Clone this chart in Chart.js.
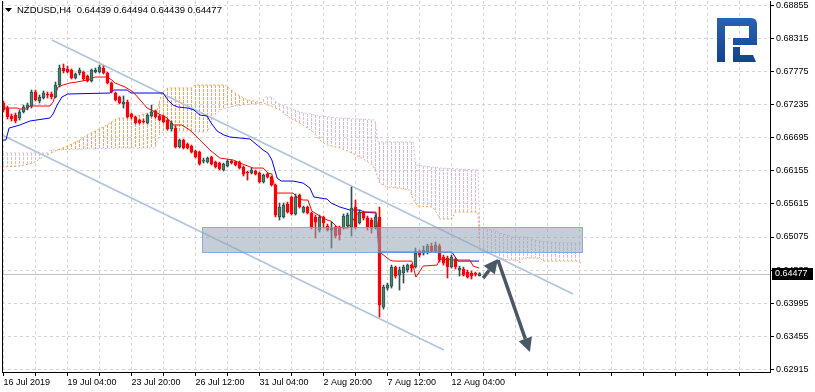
<!DOCTYPE html>
<html>
<head>
<meta charset="utf-8">
<title>NZDUSD,H4</title>
<script src="https://cdn.jsdelivr.net/npm/chart.js@4.4.1/dist/chart.umd.min.js"></script>
<style>
  html, body { margin: 0; padding: 0; background: #fff; }
  #wrap { width: 815px; height: 392px; }
</style>
</head>
<body>
<div id="wrap"><canvas id="myChart" width="815" height="392"></canvas></div>
<script>
const symbol = "NZDUSD";
const period = "H4";

// x axis: bar index, a label every 16 bars, a grid line every 8
const xLabels = ["16 Jul 2019", "19 Jul 04:00", "23 Jul 20:00", "26 Jul 12:00", "31 Jul 04:00", "2 Aug 20:00", "7 Aug 12:00", "12 Aug 04:00"];
const xLabelIdx = [0, 16, 32, 48, 64, 80, 96, 112];
const gridIdx = [0, 8, 16, 24, 32, 40, 48, 56, 64, 72, 80, 88, 96, 104, 112, 120, 128, 136, 144, 152, 160, 168, 176, 184];
const yTicks = [0.68855, 0.68315, 0.67775, 0.67235, 0.66695, 0.66155, 0.65615, 0.65075, 0.64535, 0.63995, 0.63455, 0.62915];

const opens = [
  0.67261, 0.67179, 0.67049, 0.67065, 0.67016, 0.67114, 0.67179, 0.67212, 0.67441, 0.67294,
  0.67343, 0.67392, 0.67408, 0.67359, 0.67555, 0.67832, 0.67816, 0.67800, 0.67669, 0.67751,
  0.67767, 0.67702, 0.67620, 0.67767, 0.67767, 0.67832, 0.67751, 0.67587, 0.67424, 0.67359,
  0.67245, 0.67277, 0.67082, 0.67033, 0.66984, 0.66967, 0.66935, 0.67049, 0.67130, 0.67049,
  0.67049, 0.66984, 0.66837, 0.66853, 0.66543, 0.66657, 0.66592, 0.66559, 0.66478, 0.66461,
  0.66314, 0.66298, 0.66380, 0.66298, 0.66282, 0.66168, 0.66233, 0.66314, 0.66298, 0.66298,
  0.66217, 0.66135, 0.66119, 0.66151, 0.66119, 0.65972, 0.66102, 0.66053, 0.65923, 0.65401,
  0.65401, 0.65613, 0.65727, 0.65450, 0.65760, 0.65482, 0.65564, 0.65466, 0.65401, 0.65188,
  0.65401, 0.65254, 0.65188, 0.65237, 0.65221, 0.65221, 0.65254, 0.65237, 0.65564, 0.65303,
  0.65482, 0.65384, 0.65352, 0.65237, 0.65401, 0.63932, 0.64242, 0.64274, 0.64585, 0.64454,
  0.64487, 0.64536, 0.64617, 0.64585, 0.64829, 0.64813, 0.64829, 0.64927, 0.64846, 0.64927,
  0.64748, 0.64731, 0.64585, 0.64715, 0.64536, 0.64552, 0.64503, 0.64487, 0.64470, 0.64439
];
const highs = [
  0.67294, 0.67212, 0.67082, 0.67098, 0.67147, 0.67228, 0.67261, 0.67473, 0.67473, 0.67392,
  0.67457, 0.67441, 0.67441, 0.67604, 0.67881, 0.67897, 0.67865, 0.67816, 0.67751, 0.67832,
  0.67783, 0.67718, 0.67816, 0.67832, 0.67881, 0.67865, 0.67767, 0.67604, 0.67441, 0.67375,
  0.67375, 0.67310, 0.67098, 0.67049, 0.67000, 0.67000, 0.67082, 0.67228, 0.67147, 0.67065,
  0.67065, 0.67000, 0.66967, 0.66886, 0.66674, 0.66674, 0.66608, 0.66576, 0.66494, 0.66478,
  0.66363, 0.66380, 0.66396, 0.66314, 0.66298, 0.66282, 0.66331, 0.66331, 0.66314, 0.66314,
  0.66233, 0.66151, 0.66200, 0.66168, 0.66135, 0.66102, 0.66119, 0.66070, 0.65939, 0.65629,
  0.65629, 0.65645, 0.65743, 0.65776, 0.65776, 0.65580, 0.65580, 0.65482, 0.65433, 0.65433,
  0.65417, 0.65286, 0.65319, 0.65254, 0.65254, 0.65450, 0.65466, 0.65890, 0.65678, 0.65515,
  0.65498, 0.65417, 0.65384, 0.65433, 0.65564, 0.64291, 0.64323, 0.64617, 0.64601, 0.64585,
  0.64617, 0.64634, 0.64634, 0.64895, 0.64862, 0.64927, 0.64960, 0.64976, 0.64993, 0.64960,
  0.64780, 0.64764, 0.64780, 0.64731, 0.64601, 0.64585, 0.64536, 0.64519, 0.64503, 0.64494
];
const lows = [
  0.67114, 0.67000, 0.66967, 0.66935, 0.66984, 0.67098, 0.67147, 0.67179, 0.67294, 0.67261,
  0.67326, 0.67343, 0.67326, 0.67343, 0.67522, 0.67751, 0.67751, 0.67653, 0.67653, 0.67718,
  0.67636, 0.67604, 0.67604, 0.67751, 0.67751, 0.67734, 0.67571, 0.67424, 0.67294, 0.67245,
  0.67179, 0.67016, 0.67000, 0.66918, 0.66918, 0.66935, 0.66918, 0.67033, 0.67016, 0.66967,
  0.66935, 0.66820, 0.66804, 0.66527, 0.66527, 0.66510, 0.66510, 0.66445, 0.66363, 0.66249,
  0.66282, 0.66282, 0.66249, 0.66200, 0.66168, 0.66151, 0.66217, 0.66265, 0.66233, 0.66184,
  0.66070, 0.66004, 0.66102, 0.66086, 0.65955, 0.65955, 0.66037, 0.65906, 0.65401, 0.65352,
  0.65384, 0.65466, 0.65433, 0.65433, 0.65547, 0.65466, 0.65450, 0.65205, 0.65058, 0.65156,
  0.65221, 0.65172, 0.64895, 0.65058, 0.65025, 0.65205, 0.65221, 0.65091, 0.65205, 0.65286,
  0.65352, 0.65188, 0.65139, 0.65205, 0.63769, 0.63899, 0.64209, 0.64242, 0.64405, 0.64209,
  0.64323, 0.64503, 0.64503, 0.64568, 0.64748, 0.64780, 0.64797, 0.64829, 0.64829, 0.64666,
  0.64617, 0.64405, 0.64568, 0.64552, 0.64438, 0.64438, 0.64405, 0.64389, 0.64438, 0.64439
];
const closes = [
  0.67147, 0.67033, 0.67000, 0.66967, 0.67114, 0.67196, 0.67228, 0.67441, 0.67310, 0.67359,
  0.67424, 0.67390, 0.67359, 0.67555, 0.67832, 0.67783, 0.67767, 0.67669, 0.67734, 0.67800,
  0.67653, 0.67620, 0.67800, 0.67800, 0.67849, 0.67751, 0.67587, 0.67441, 0.67310, 0.67261,
  0.67277, 0.67033, 0.67033, 0.66935, 0.66935, 0.66951, 0.67065, 0.67114, 0.67033, 0.66984,
  0.66951, 0.66837, 0.66935, 0.66543, 0.66657, 0.66527, 0.66527, 0.66461, 0.66380, 0.66265,
  0.66331, 0.66363, 0.66265, 0.66217, 0.66184, 0.66265, 0.66314, 0.66282, 0.66249, 0.66200,
  0.66102, 0.66119, 0.66168, 0.66102, 0.65972, 0.66086, 0.66053, 0.65923, 0.65433, 0.65564,
  0.65596, 0.65482, 0.65450, 0.65727, 0.65564, 0.65564, 0.65466, 0.65237, 0.65319, 0.65401,
  0.65303, 0.65188, 0.65221, 0.65091, 0.65107, 0.65417, 0.65433, 0.65547, 0.65237, 0.65482,
  0.65384, 0.65237, 0.65221, 0.65401, 0.63964, 0.64258, 0.64291, 0.64585, 0.64438, 0.64536,
  0.64585, 0.64617, 0.64568, 0.64813, 0.64780, 0.64862, 0.64927, 0.64846, 0.64944, 0.64699,
  0.64650, 0.64585, 0.64748, 0.64585, 0.64568, 0.64454, 0.64421, 0.64438, 0.64465, 0.64477
];

// ichimoku lines as [bar index, price] break points
const tenkan = [
  [-0.375, 0.67179], [3.4, 0.67179], [4.1, 0.67163], [5.9, 0.67163], [6.6, 0.67212], [11.6, 0.67212],
  [12.4, 0.67277], [13.6, 0.67522], [14.9, 0.67555], [16.6, 0.67587], [18.4, 0.67604], [20.9, 0.67636],
  [22.9, 0.67685], [25.9, 0.67685], [27.1, 0.67636], [27.9, 0.67587], [30.4, 0.67522], [32.4, 0.67441],
  [34.6, 0.67277], [35.9, 0.67179], [38.4, 0.67098], [40.9, 0.67016], [42.4, 0.66902], [44.6, 0.66902],
  [46.6, 0.66820], [49.1, 0.66657], [51.6, 0.66494], [54.1, 0.66363], [57.4, 0.66331], [59.1, 0.66282],
  [62.4, 0.66200], [64.9, 0.66200], [66.1, 0.66119], [67.1, 0.66102], [68.1, 0.65792], [72.4, 0.65792],
  [73.4, 0.65727], [74.9, 0.65678], [76.1, 0.65678], [77.1, 0.65498], [79.1, 0.65417], [80.9, 0.65352],
  [81.9, 0.65335], [83.4, 0.65237], [86.1, 0.65221], [87.1, 0.65319], [88.4, 0.65450], [89.9, 0.65482],
  [93.1, 0.65482], [94.1, 0.64829], [96.6, 0.64699], [97.4, 0.64682], [102.1, 0.64682], [103.1, 0.64421],
  [104.1, 0.64519], [104.9, 0.64601], [108.4, 0.64617], [109.1, 0.64715], [112.9, 0.64699], [116.6, 0.64699],
  [117.4, 0.64601], [118.9, 0.64568]
];
const kijun = [
  [-0.375, 0.66657], [0.6, 0.66657], [1.4, 0.66853], [4.1, 0.66902], [6.6, 0.66967], [11.6, 0.67016],
  [12.4, 0.67082], [13.4, 0.67228], [14.6, 0.67359], [16.1, 0.67408], [26.6, 0.67424], [27.6, 0.67473],
  [30.9, 0.67473], [31.9, 0.67424], [39.9, 0.67424], [41.1, 0.67310], [42.4, 0.67228], [43.6, 0.67196],
  [46.1, 0.67179], [47.6, 0.67147], [49.1, 0.67065], [50.9, 0.67049], [51.9, 0.66935], [53.4, 0.66804],
  [55.1, 0.66739], [56.6, 0.66706], [59.1, 0.66690], [61.6, 0.66674], [63.4, 0.66576], [64.9, 0.66494],
  [66.1, 0.66445], [67.1, 0.66331], [68.4, 0.66037], [69.4, 0.65988], [72.4, 0.65988], [74.9, 0.65955],
  [76.6, 0.65874], [77.6, 0.65727], [80.9, 0.65694], [81.9, 0.65629], [84.1, 0.65564], [86.6, 0.65515],
  [89.1, 0.65515], [90.1, 0.65482], [93.1, 0.65466], [93.9, 0.64829], [112.1, 0.64829], [113.6, 0.64682],
  [118.9, 0.64682]
];
const senkouA = [
  [-0.375, 0.66217], [4.1, 0.66233], [7.4, 0.66282], [9.9, 0.66380], [13.4, 0.66494], [16.6, 0.66576],
  [19.1, 0.66657], [20.9, 0.66739], [23.4, 0.66820], [25.9, 0.66902], [28.4, 0.67016], [31.6, 0.67016],
  [35.9, 0.67098], [38.4, 0.67147], [39.6, 0.67424], [41.1, 0.67506], [47.1, 0.67506], [47.9, 0.67555],
  [55.4, 0.67555], [58.6, 0.67392], [61.1, 0.67310], [64.9, 0.67261], [67.4, 0.67196], [69.1, 0.67147],
  [71.6, 0.67016], [74.1, 0.66935], [77.4, 0.66788], [79.1, 0.66657], [80.9, 0.66576], [84.1, 0.66527],
  [86.6, 0.66461], [89.1, 0.66380], [92.4, 0.66249], [94.1, 0.65955], [95.9, 0.65890], [98.4, 0.65874],
  [101.6, 0.65841], [102.4, 0.65694], [103.4, 0.65580], [107.4, 0.65564], [108.4, 0.65450], [109.1, 0.65368],
  [112.1, 0.65368], [112.9, 0.65482], [118.6, 0.65482], [119.1, 0.64862], [120.9, 0.64813], [123.4, 0.64748],
  [125.9, 0.64699], [128.4, 0.64699], [129.1, 0.64650], [129.9, 0.64731], [134.1, 0.64731], [134.9, 0.64682],
  [143.4, 0.64682], [144.9, 0.64650]
];
const senkouB = [
  [-0.375, 0.66445], [10.9, 0.66445], [11.6, 0.66494], [29.1, 0.66527], [37.9, 0.66527], [39.1, 0.66771],
  [39.9, 0.66788], [50.9, 0.66788], [51.6, 0.66869], [52.4, 0.67033], [54.1, 0.67147], [56.6, 0.67196],
  [64.1, 0.67261], [65.6, 0.67359], [67.1, 0.67359], [68.4, 0.67261], [70.9, 0.67196], [74.1, 0.67114],
  [79.1, 0.67049], [84.1, 0.67016], [92.9, 0.66984], [93.6, 0.66625], [102.4, 0.66625], [103.1, 0.66249],
  [109.1, 0.66200], [118.6, 0.66168], [119.1, 0.65237], [122.4, 0.65188], [124.1, 0.65139], [127.4, 0.65074],
  [130.9, 0.65074], [132.4, 0.65025], [135.9, 0.64993], [140.9, 0.64976], [144.9, 0.64976]
];

// drawn objects: channel, resistance zone, arrows
const channelUpper = [[12.1, 0.68289], [142.4, 0.64144]];
const channelLower = [[-0.375, 0.66739], [110.1, 0.63230]];
const zone = { from: 49.6, to: 144.6, top: 0.65237, bottom: 0.64829 };
const arrowUp = [[119.9, 0.64405], [123.6, 0.64715]];
const arrowDown = [[123.6, 0.64699], [131.6, 0.63197]];

const lastPrice = closes[closes.length - 1];
const xMin = -0.375;
const xMax = 191.625;
const yMin = 0.628726;
const yMax = 0.689252;

const bullFill = "#3e8a6a";
const bullEdge = "#2f4f4f";
const bearFill = "#ff0000";
const spanAColor = "#f4a460";
const spanBColor = "#d8bfd8";

const isBull = function (i) {
  return closes[i] >= opens[i];
};

const toPoints = function (list) {
  return list.map(function (p) { return { x: p[0], y: p[1] }; });
};

// value of a broken line at bar k (the line itself is drawn by chart.js the same way)
const lineAt = function (list, k) {
  for (let j = 1; j < list.length; j++) {
    if (k <= list[j][0]) {
      const a = list[j - 1];
      const b = list[j];
      return a[1] + (b[1] - a[1]) * (k - a[0]) / (b[0] - a[0]);
    }
  }
  return list[list.length - 1][1];
};

const drawArrow = function (ctx, x1, y1, x2, y2) {
  const ang = Math.atan2(y2 - y1, x2 - x1);
  const head = 14;
  const half = 7;
  const bx = x2 - head * Math.cos(ang);
  const by = y2 - head * Math.sin(ang);
  ctx.beginPath();
  ctx.moveTo(x1, y1);
  ctx.lineTo(bx, by);
  ctx.stroke();
  ctx.beginPath();
  ctx.moveTo(x2, y2);
  ctx.lineTo(bx + half * Math.sin(ang), by - half * Math.cos(ang));
  ctx.lineTo(bx - half * Math.sin(ang), by + half * Math.cos(ang));
  ctx.closePath();
  ctx.fill();
};

const drawLogo = function (ctx) {
  let grad = ctx.createLinearGradient(0, 18, 0, 62);
  grad.addColorStop(0, "#2a62b6");
  grad.addColorStop(1, "#14428e");
  ctx.fillStyle = grad;
  ctx.beginPath();
  ctx.moveTo(717, 18);
  ctx.lineTo(751, 18);
  ctx.quadraticCurveTo(757, 18, 757, 24);
  ctx.lineTo(757, 45);
  ctx.lineTo(733, 45);
  ctx.lineTo(733, 38);
  ctx.lineTo(749, 38);
  ctx.lineTo(749, 26);
  ctx.lineTo(725, 26);
  ctx.lineTo(725, 62);
  ctx.lineTo(717, 62);
  ctx.closePath();
  ctx.fill();
  ctx.beginPath();
  ctx.moveTo(733, 47);
  ctx.lineTo(740, 47);
  ctx.lineTo(740, 55);
  ctx.lineTo(753, 55);
  ctx.lineTo(756, 62);
  ctx.lineTo(733, 62);
  ctx.closePath();
  ctx.fill();
};

const overlayPlugin = {
  id: "overlay",
  beforeDatasetsDraw: function (chart) {
    const { ctx, chartArea, scales } = chart;
    const sx = scales.x;
    const sy = scales.y;
    ctx.save();

    // kumo hatching: one dotted vertical line per bar between span A and span B
    ctx.lineWidth = 1;
    ctx.setLineDash([3, 1]);
    const lastK = Math.floor(senkouA[senkouA.length - 1][0]);
    for (let k = 0; k <= lastK; k++) {
      const a = lineAt(senkouA, k);
      const b = lineAt(senkouB, k);
      const x = Math.round(sx.getPixelForValue(k)) - 0.5;
      ctx.strokeStyle = a >= b ? spanAColor : spanBColor;
      ctx.beginPath();
      ctx.moveTo(x, Math.round(sy.getPixelForValue(Math.max(a, b))));
      ctx.lineTo(x, Math.round(sy.getPixelForValue(Math.min(a, b))));
      ctx.stroke();
    }
    ctx.setLineDash([]);

    // current price line
    const y = Math.round(sy.getPixelForValue(lastPrice)) + 0.5;
    ctx.strokeStyle = "#c0c0c0";
    ctx.beginPath();
    ctx.moveTo(chartArea.left, y);
    ctx.lineTo(chartArea.right, y);
    ctx.stroke();
    ctx.restore();
  },
  afterDatasetsDraw: function (chart) {
    const { ctx, chartArea, scales } = chart;
    const sx = scales.x;
    const sy = scales.y;
    ctx.save();

    // resistance zone
    let zx1 = Math.round(sx.getPixelForValue(zone.from)) + 0.5;
    let zx2 = Math.round(sx.getPixelForValue(zone.to)) + 0.5;
    let zy1 = Math.round(sy.getPixelForValue(zone.top)) + 0.5;
    let zy2 = Math.round(sy.getPixelForValue(zone.bottom)) + 0.5;
    ctx.fillStyle = "rgba(150,165,182,0.55)";
    ctx.fillRect(zx1, zy1, zx2 - zx1, zy2 - zy1);
    ctx.strokeStyle = "rgba(110,150,225,0.75)";
    ctx.lineWidth = 1;
    ctx.strokeRect(zx1, zy1, zx2 - zx1, zy2 - zy1);

    // arrows
    ctx.strokeStyle = "#4a5866";
    ctx.fillStyle = "#4a5866";
    ctx.lineWidth = 3.5;
    for (let a of [arrowUp, arrowDown]) {
      drawArrow(ctx,
        sx.getPixelForValue(a[0][0]), sy.getPixelForValue(a[0][1]),
        sx.getPixelForValue(a[1][0]), sy.getPixelForValue(a[1][1]));
    }

    drawLogo(ctx);

    // left frame
    ctx.strokeStyle = "#000";
    ctx.lineWidth = 1;
    ctx.beginPath();
    ctx.moveTo(chartArea.left + 0.5, chartArea.top);
    ctx.lineTo(chartArea.left + 0.5, chartArea.bottom);
    ctx.stroke();

    // header
    const n = closes.length - 1;
    ctx.fillStyle = "#000";
    ctx.beginPath();
    ctx.moveTo(5, 8);
    ctx.lineTo(12, 8);
    ctx.lineTo(8.5, 12);
    ctx.closePath();
    ctx.fill();
    ctx.font = "9.5px 'Liberation Sans', Arial, sans-serif";
    ctx.textBaseline = "middle";
    ctx.fillText(symbol + "," + period + "  " + opens[n].toFixed(5) + " " + highs[n].toFixed(5) + " " +
      lows[n].toFixed(5) + " " + closes[n].toFixed(5), 17, 10.5);

    // current price tag
    const py = sy.getPixelForValue(lastPrice);
    ctx.fillStyle = "#000";
    ctx.fillRect(chartArea.right + 2, Math.round(py) - 6, 41, 12);
    ctx.fillStyle = "#fff";
    ctx.font = "9px 'Liberation Sans', Arial, sans-serif";
    ctx.fillText(lastPrice.toFixed(5), chartArea.right + 5, Math.round(py));
    ctx.restore();
  }
};

const drawChart = function () {
  const ctx = document.getElementById("myChart").getContext("2d");

  Chart.defaults.font.family = "'Liberation Sans', Arial, sans-serif";
  Chart.defaults.font.size = 9;
  Chart.defaults.color = "#000";

  const myChart = new Chart(ctx, {
    type: "line",
    data: {
      datasets: [
        {
          type: "bar",
          label: "body",
          data: opens.map(function (o, i) { return { x: i, y: [o, closes[i]] }; }),
          backgroundColor: function (c) { return isBull(c.dataIndex) ? bullFill : bearFill; },
          borderColor: function (c) { return isBull(c.dataIndex) ? bullEdge : bearFill; },
          borderWidth: 1,
          borderSkipped: false,
          barThickness: 3,
          minBarLength: 1,
          grouped: false
        },
        {
          type: "bar",
          label: "wick",
          data: lows.map(function (l, i) { return { x: i, y: [l, highs[i]] }; }),
          backgroundColor: function (c) { return isBull(c.dataIndex) ? bullEdge : bearFill; },
          borderWidth: 0,
          barThickness: 1,
          grouped: false
        },
        {
          label: "Tenkan-sen",
          data: toPoints(tenkan),
          borderColor: "#ff0000",
          borderWidth: 1,
          pointRadius: 0,
          tension: 0
        },
        {
          label: "Kijun-sen",
          data: toPoints(kijun),
          borderColor: "#0000ff",
          borderWidth: 1,
          pointRadius: 0,
          tension: 0
        },
        {
          label: "channel top",
          data: toPoints(channelUpper),
          borderColor: "#b0c4de",
          borderWidth: 1.6,
          pointRadius: 0
        },
        {
          label: "channel bottom",
          data: toPoints(channelLower),
          borderColor: "#b0c4de",
          borderWidth: 1.6,
          pointRadius: 0
        },
        {
          label: "Senkou Span A",
          data: toPoints(senkouA),
          borderColor: spanAColor,
          borderWidth: 1,
          borderDash: [2, 2],
          pointRadius: 0,
          tension: 0
        },
        {
          label: "Senkou Span B",
          data: toPoints(senkouB),
          borderColor: spanBColor,
          borderWidth: 1,
          borderDash: [2, 2],
          pointRadius: 0,
          tension: 0
        }
      ]
    },
    options: {
      responsive: false,
      maintainAspectRatio: false,
      devicePixelRatio: 1,
      animation: false,
      events: [],
      layout: { padding: { left: 2, top: 1, right: 0, bottom: 0 } },
      plugins: {
        legend: { display: false },
        tooltip: { enabled: false }
      },
      scales: {
        x: {
          type: "linear",
          min: xMin,
          max: xMax,
          bounds: "data",
          offset: false,
          afterBuildTicks: function (scale) {
            scale.ticks = gridIdx.map(function (v) { return { value: v }; });
          },
          afterFit: function (scale) {
            scale.height = 20;
            scale.paddingLeft = 0;
            scale.paddingRight = 0;
          },
          grid: { color: "#d4d4d4", tickColor: "#000", tickLength: 4, offset: false },
          border: { color: "#000", dash: [3, 3] },
          ticks: {
            autoSkip: false,
            maxRotation: 0,
            align: "start",
            padding: 1,
            callback: function (v) {
              let k = xLabelIdx.indexOf(v);
              return k >= 0 ? xLabels[k] : "";
            }
          }
        },
        y: {
          type: "linear",
          position: "right",
          min: yMin,
          max: yMax,
          bounds: "data",
          afterBuildTicks: function (scale) {
            scale.ticks = yTicks.map(function (v) { return { value: v }; });
          },
          afterFit: function (scale) {
            scale.width = 45;
            scale.paddingTop = 0;
            scale.paddingBottom = 0;
          },
          grid: { color: "#d4d4d4", tickColor: "#000", tickLength: 4 },
          border: { color: "#000", dash: [3, 3] },
          ticks: {
            padding: 2,
            callback: function (v) { return v.toFixed(5); }
          }
        }
      }
    },
    plugins: [overlayPlugin]
  });
};

document.addEventListener("DOMContentLoaded", function () {
  drawChart();
});
</script>
</body>
</html>
